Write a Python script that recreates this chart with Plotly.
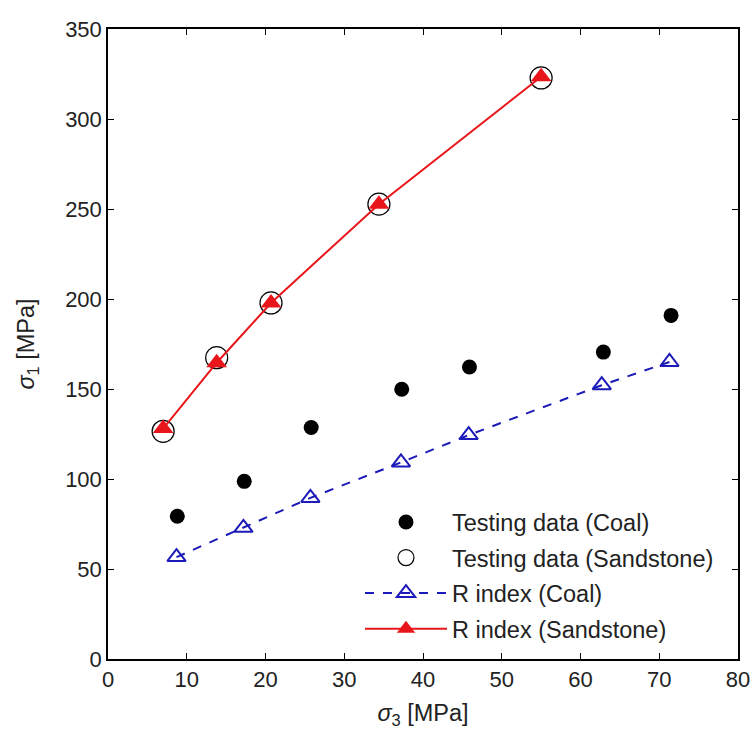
import plotly.graph_objects as go

# Data
coal_test_x = [8.8, 17.3, 25.8, 37.3, 45.9, 62.9, 71.5]
coal_test_y = [79.3, 98.7, 128.6, 149.9, 162.2, 170.5, 190.9]

sand_test_x = [7.0, 13.8, 20.7, 34.4, 55.0]
sand_test_y = [126.5, 167.4, 197.8, 252.7, 322.8]

coal_r_x = [8.7, 17.2, 25.7, 37.2, 45.8, 62.7, 71.3]
coal_r_y = [56.6, 72.9, 89.5, 109.2, 124.4, 152.1, 165.0]

sand_r_x = [7.0, 13.8, 20.7, 34.4, 55.0]
sand_r_y = [128.0, 164.6, 197.8, 252.7, 323.5]

x_ticks = [0, 10, 20, 30, 40, 50, 60, 70, 80]
y_ticks = [0, 50, 100, 150, 200, 250, 300, 350]

FONT = "Liberation Sans, Arial, sans-serif"
RED = "#e8161b"
BLUE = "#1c1ab8"
TXT = "#222"

fig = go.Figure()
fig.add_trace(go.Scatter(
    x=coal_test_x, y=coal_test_y, mode="markers", name="Testing data (Coal)",
    legendgroup="a",
    marker=dict(symbol="circle", size=15, color="black")))
fig.add_trace(go.Scatter(
    x=sand_test_x, y=sand_test_y, mode="markers", name="Testing data (Sandstone)",
    legendgroup="b",
    marker=dict(symbol="circle-open", size=22, color="black", line=dict(width=1.2))))
fig.add_trace(go.Scatter(
    x=coal_r_x, y=coal_r_y, mode="lines+markers", name="R index (Coal)",
    legendgroup="c",
    line=dict(color=BLUE, width=2, dash="dash"),
    marker=dict(symbol="triangle-up-open", size=16, color=BLUE, line=dict(width=2))))
fig.add_trace(go.Scatter(
    x=sand_r_x, y=sand_r_y, mode="lines+markers", name="R index (Sandstone)",
    legendgroup="d",
    line=dict(color=RED, width=2),
    marker=dict(symbol="triangle-up", size=18, color=RED)))

axis_common = dict(
    showline=True, linecolor="black", linewidth=1.5, mirror="ticks",
    ticks="inside", ticklen=6, tickcolor="black", tickwidth=1.2,
    showgrid=False, zeroline=False, automargin=False,
    tickfont=dict(family=FONT, size=22, color=TXT),
)

fig.update_layout(
    width=753, height=729,
    margin=dict(l=108, r=15, t=29, b=70),
    paper_bgcolor="white", plot_bgcolor="white",
    font=dict(family=FONT, color=TXT),
    xaxis=dict(range=[0, 80], tickvals=x_ticks,
               title=dict(text="<i>σ</i><sub>3</sub> [MPa]", font=dict(family=FONT, size=23.5, color=TXT), standoff=19),
               **axis_common),
    yaxis=dict(range=[0, 350], tickvals=y_ticks,
               title=dict(text="<i>σ</i><sub>1</sub> [MPa]", font=dict(family=FONT, size=23.5, color=TXT), standoff=24),
               **axis_common),
    legend=dict(x=0.40, y=0.252, xanchor="left", yanchor="top",
                bgcolor="rgba(255,255,255,0)", borderwidth=0,
                font=dict(family=FONT, size=23.5, color=TXT),
                tracegroupgap=2, itemwidth=82),
    showlegend=True,
)

fig.write_html(
    "out.html",
    config={"displayModeBar": False},
    post_script="document.body.style.margin='0';document.body.style.overflow='hidden';",
)
